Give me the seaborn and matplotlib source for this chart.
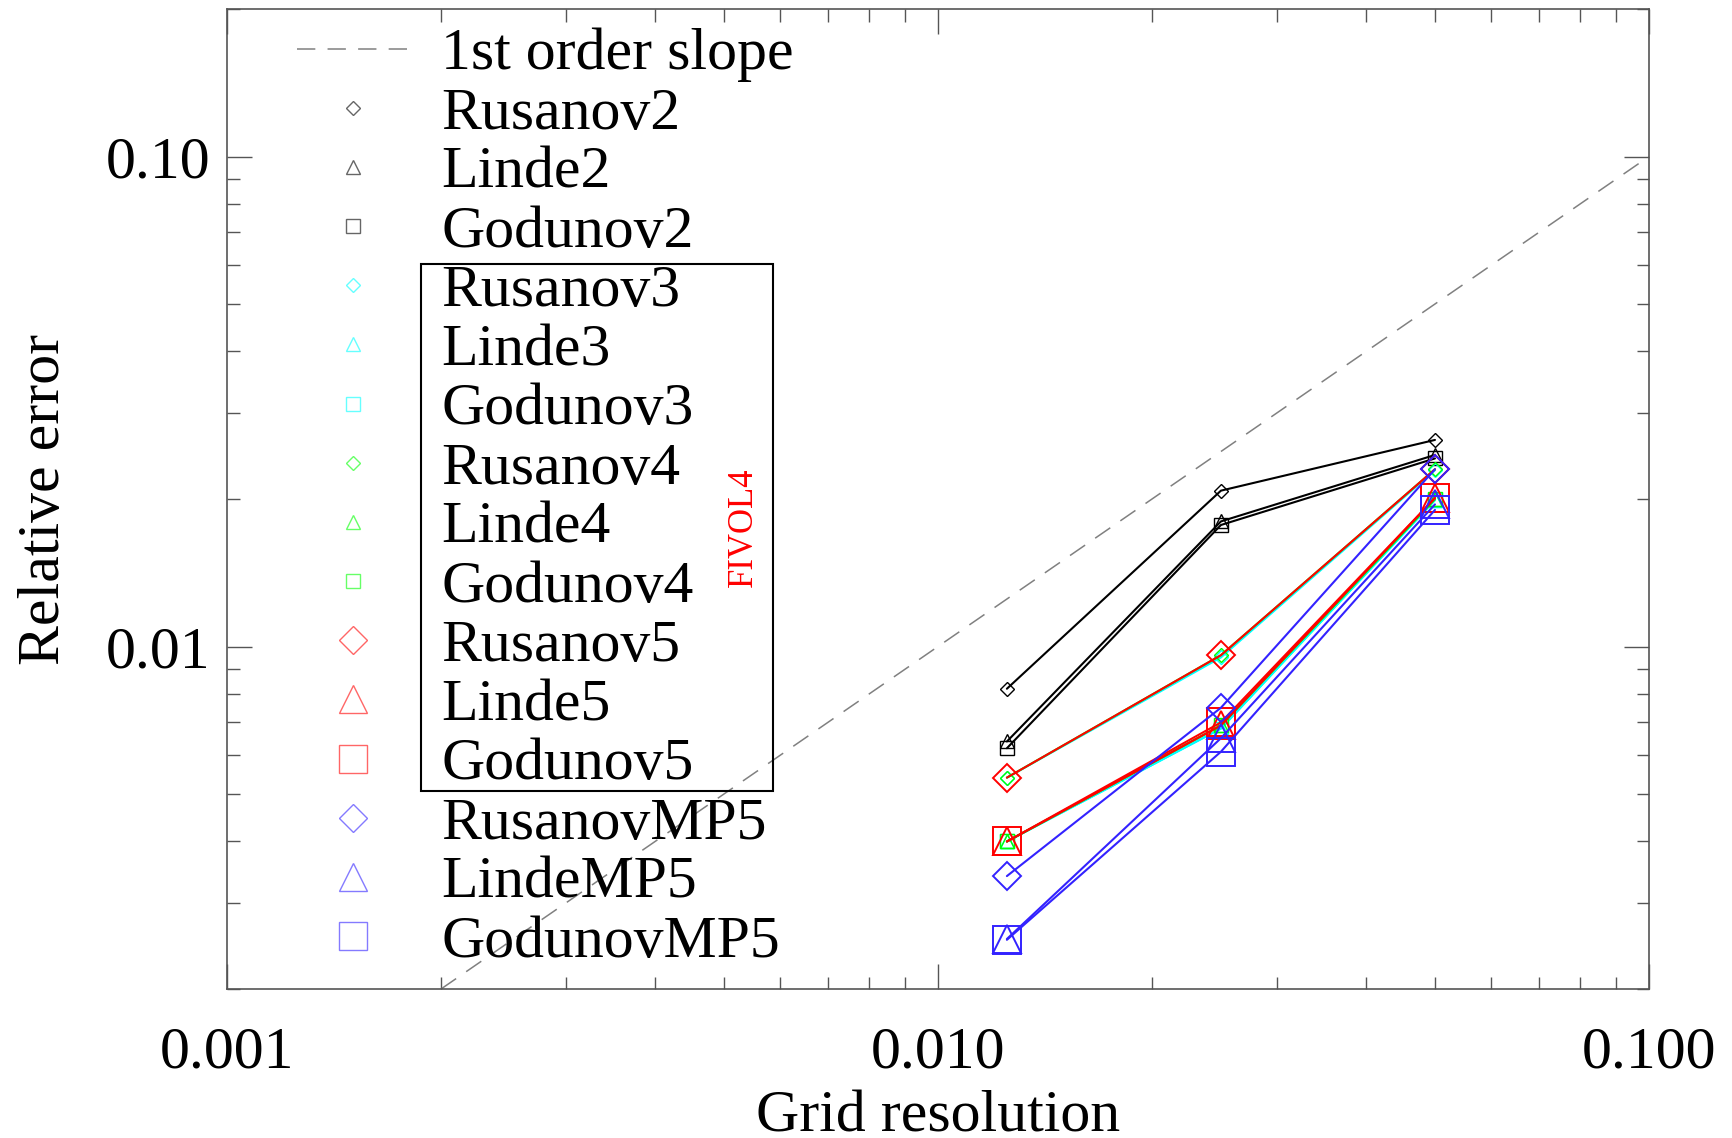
import numpy as np
import pandas as pd
import matplotlib
matplotlib.use("Agg")
import matplotlib.pyplot as plt
import matplotlib.ticker as mticker
from matplotlib.lines import Line2D
import seaborn as sns

# ---------------- data ----------------
grid = [0.0125, 0.025, 0.05]
slope_x = [0.002, 0.1]
slope_y = [0.002, 0.1]

rusanov2 = [0.0082, 0.0208, 0.0264]
linde2 = [0.0064, 0.0180, 0.0246]
godunov2 = [0.0062, 0.0177, 0.0242]
rusanov3 = [0.0054, 0.0095, 0.0229]
linde3 = [0.0040, 0.0068, 0.0199]
godunov3 = [0.0040, 0.0068, 0.0199]
rusanov4 = [0.0054, 0.0096, 0.0230]
linde4 = [0.0040, 0.0069, 0.0200]
godunov4 = [0.0040, 0.0069, 0.0200]
rusanov5 = [0.0054, 0.0096, 0.0230]
linde5 = [0.0040, 0.0069, 0.0201]
godunov5 = [0.0040, 0.0070, 0.0201]
rusanovmp5 = [0.0034, 0.0075, 0.0230]
lindemp5 = [0.00253, 0.0065, 0.0195]
godunovmp5 = [0.00252, 0.0061, 0.0190]

names = ["Rusanov2", "Linde2", "Godunov2",
         "Rusanov3", "Linde3", "Godunov3",
         "Rusanov4", "Linde4", "Godunov4",
         "Rusanov5", "Linde5", "Godunov5",
         "RusanovMP5", "LindeMP5", "GodunovMP5"]
values = [rusanov2, linde2, godunov2, rusanov3, linde3, godunov3,
          rusanov4, linde4, godunov4, rusanov5, linde5, godunov5,
          rusanovmp5, lindemp5, godunovmp5]

x_ticks = [0.001, 0.01, 0.1]
x_ticklabels = ["0.001", "0.010", "0.100"]
y_ticks = [0.01, 0.1]
y_ticklabels = ["0.01", "0.10"]

# ---------------- style ----------------
sns.set_style("ticks")
plt.rcParams["font.family"] = ["Liberation Serif", "DejaVu Serif"]
plt.rcParams["text.color"] = "black"
plt.rcParams["axes.labelcolor"] = "black"

FS = 43
colors = ["black"] * 3 + ["#00ffff"] * 3 + ["#00ff00"] * 3 + ["#ff0000"] * 3 + ["#3322ff"] * 3
shapes = ["D", "^", "s"] * 5
small = {"D": 7.5, "^": 10.5, "s": 10.5}
big = {"D": 14.5, "^": 20.0, "s": 20.0}

fig = plt.figure(figsize=(17.33, 11.38), dpi=100)
ax = fig.add_axes([227 / 1733, 1 - 989 / 1138, (1649 - 227) / 1733, (989 - 9) / 1138])

# slope line
sns.lineplot(x=slope_x, y=slope_y, ax=ax, color="#808080", lw=1.1,
             dashes=False, legend=False)
ax.lines[-1].set_dashes((12, 8))

handles = [Line2D([], [], color="#808080", lw=1.1, dashes=(12, 8))]
labels = ["1st order slope"]

for i, (name, vals) in enumerate(zip(names, values)):
    m = shapes[i]
    ms = small[m] if i < 9 else big[m]
    mew = 1.0 if i < 9 else 1.4
    c = colors[i]
    df = pd.DataFrame({"x": grid, "y": vals})
    sns.lineplot(data=df, x="x", y="y", ax=ax, color=c, lw=1.5,
                 marker=m, markersize=ms, markerfacecolor="none",
                 markeredgecolor=c, markeredgewidth=mew, legend=False)
    handles.append(Line2D([], [], ls="none", marker=m, markersize=ms,
                          markerfacecolor="none", markeredgecolor=c,
                          markeredgewidth=1.0, alpha=0.6))
    labels.append(name)

ax.set_xscale("log")
ax.set_yscale("log")
ax.set_xlim(0.001, 0.1)
ax.set_ylim(0.002, 0.2)

ax.xaxis.set_major_locator(mticker.FixedLocator(x_ticks))
ax.xaxis.set_major_formatter(mticker.FixedFormatter(x_ticklabels))
ax.yaxis.set_major_locator(mticker.FixedLocator(y_ticks))
ax.yaxis.set_major_formatter(mticker.FixedFormatter(y_ticklabels))
ax.xaxis.set_minor_locator(mticker.LogLocator(base=10, subs=np.arange(2, 10)))
ax.yaxis.set_minor_locator(mticker.LogLocator(base=10, subs=np.arange(2, 10)))
ax.xaxis.set_minor_formatter(mticker.NullFormatter())
ax.yaxis.set_minor_formatter(mticker.NullFormatter())

for side in ["left", "right", "top", "bottom"]:
    ax.spines[side].set_visible(True)
    ax.spines[side].set_color("#555555")
    ax.spines[side].set_linewidth(1.2)

ax.tick_params(which="both", direction="in", top=True, right=True,
               color="#555555", width=1.0, labelsize=FS, labelcolor="black")
ax.tick_params(which="major", length=18)
ax.tick_params(which="minor", length=9)
ax.tick_params(axis="x", which="major", pad=27)
ax.tick_params(axis="y", which="major", pad=12)

ax.set_xlabel("Grid resolution", fontsize=FS, labelpad=7, color="black")
ax.set_ylabel("Relative error", fontsize=FS, labelpad=24, color="black")

leg = ax.legend(handles, labels, loc="upper left", bbox_to_anchor=(0.049, 0.981),
                frameon=False, fontsize=FS, handlelength=1.87, handletextpad=0.55,
                labelspacing=0.073, borderpad=0, borderaxespad=0)
for t in leg.get_texts():
    t.set_color("black")

# box around the 3rd-5th order entries
ax.add_patch(plt.Rectangle(((421 - 227) / 1422, (989 - 791) / 980),
                           (773 - 421) / 1422, (791 - 264) / 980,
                           transform=ax.transAxes, fill=False,
                           edgecolor="black", lw=1.5, zorder=5))
ax.text((743 - 227) / 1422, (989 - 527) / 980, "FIVOL4", color="red",
        rotation=90, fontsize=25, ha="center", va="center",
        transform=ax.transAxes)

fig.savefig("out.png", dpi=100)
